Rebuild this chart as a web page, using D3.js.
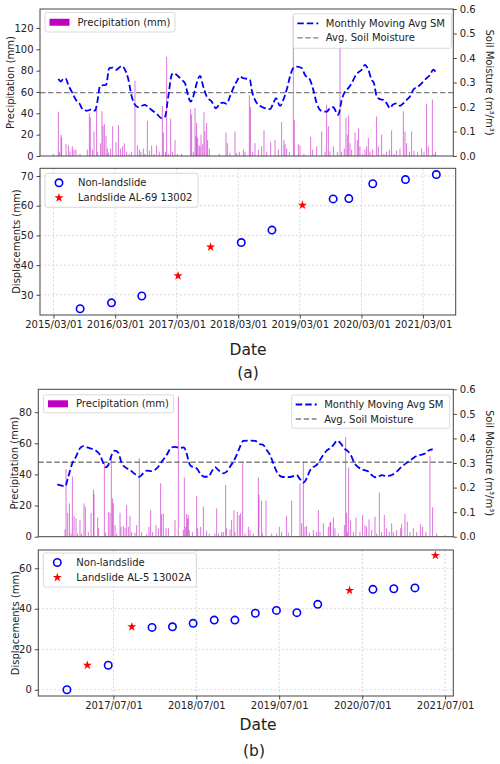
<!doctype html>
<html lang="en">

<head>
  <meta charset="utf-8">
  <title>Precipitation, soil moisture and displacements</title>
  <style>
    body {
      margin: 0;
      background: #fff;
    }

    svg text {
      font-family: 'DejaVu Sans', sans-serif;
      fill: #222;
    }

    .tick text {
      font-size: 10px;
    }

    .tick line {
      stroke: #444;
    }

    .grid line {
      stroke: #c8c8c8;
      stroke-width: 0.7;
      stroke-dasharray: 2, 2;
    }
  </style>
</head>

<body>
  <div id="chart"></div>

  <script src="https://d3js.org/d3.v7.min.js"></script>
  <script>
    // ---------- data ----------

    // (a) daily precipitation (decimal year, mm)
    const precipYearsA = [2015.165, 2015.248, 2015.265, 2015.292, 2015.303, 2015.375, 2015.414, 2015.441, 2015.480, 2015.507,
      2015.540, 2015.606, 2015.728, 2015.761, 2015.777, 2015.811, 2015.838, 2015.882, 2015.899, 2015.948,
      2015.970, 2015.987, 2016.009, 2016.037, 2016.059, 2016.075, 2016.114, 2016.147, 2016.202, 2016.241,
      2016.279, 2016.312, 2016.340, 2016.378, 2016.422, 2016.461, 2016.516, 2016.555, 2016.588, 2016.615,
      2016.654, 2016.681, 2016.720, 2016.753, 2016.792, 2016.830, 2016.874, 2016.918, 2016.968, 2016.985,
      2017.023, 2017.040, 2017.067, 2017.106, 2017.139, 2017.178, 2017.216, 2017.288, 2017.437, 2017.453,
      2017.481, 2017.509, 2017.525, 2017.536, 2017.553, 2017.575, 2017.591, 2017.608, 2017.636, 2017.657,
      2017.674, 2017.702, 2017.718, 2017.746, 2017.911, 2018.021, 2018.043, 2018.087, 2018.170, 2018.198,
      2018.242, 2018.308, 2018.335, 2018.407,
      2018.425, 2018.462, 2018.501, 2018.556, 2018.611, 2018.650, 2018.694, 2018.760, 2018.832, 2018.887,
      2018.942, 2018.980, 2018.997, 2019.025, 2019.069, 2019.135, 2019.151, 2019.218, 2019.245, 2019.311,
      2019.422, 2019.455, 2019.521, 2019.604, 2019.659, 2019.686, 2019.714, 2019.741, 2019.797, 2019.863,
      2019.907, 2019.934, 2019.978, 2020.006, 2020.028, 2020.050, 2020.072, 2020.100, 2020.155, 2020.193,
      2020.215, 2020.237, 2020.282, 2020.320, 2020.348, 2020.375, 2020.403, 2020.447, 2020.513, 2020.541,
      2020.596, 2020.634, 2020.678, 2020.723, 2020.761, 2020.800, 2020.844, 2020.899, 2020.954, 2020.982,
      2021.009, 2021.054, 2021.092, 2021.131, 2021.191, 2021.257, 2021.296, 2021.340, 2021.367, 2021.434,
      2021.461, 2021.489];
    const precipValuesA = [2, 41.6, 4, 20, 17.5, 11, 10, 4, 9, 6,
      6, 2, 6, 40, 36, 6, 23, 45, 4, 12,
      42, 28, 30, 19, 7, 3, 7, 28, 13, 29,
      7, 9, 12, 4, 2, 4, 70.6, 10, 6, 4,
      7, 2, 33, 5, 10, 2, 10, 4, 47, 22,
      4, 93, 2, 35, 4, 15, 2, 2, 44, 39,
      4, 45, 19, 31, 17, 10, 9, 20, 11, 41,
      23, 31, 15, 7, 2, 22, 12, 3, 23, 3,
      4, 6, 4, 57,
      46, 4, 12, 6, 9, 24, 4, 13, 15, 6,
      32, 15, 11, 7, 4, 131, 34, 11, 10, 2,
      18, 6, 9, 23, 4, 48, 28, 4, 9, 4,
      120, 4, 7, 36, 20, 38, 12, 6, 22, 15,
      26, 9, 2, 6, 9, 17, 4, 6, 37, 9,
      20, 2, 4, 6, 24, 2, 5, 7, 42, 23,
      12, 4, 23, 5, 4, 7, 4, 49, 9, 53,
      2, 4];

    // (a) monthly moving average soil moisture (decimal year, m3/m3)
    const smYearsA = [2015.248, 2015.292, 2015.330, 2015.370, 2015.413, 2015.469, 2015.540, 2015.595, 2015.661, 2015.727,
      2015.800, 2015.855, 2015.899, 2015.937, 2015.992, 2016.037, 2016.091, 2016.147, 2016.202, 2016.247,
      2016.296, 2016.351, 2016.405, 2016.462, 2016.516, 2016.571, 2016.627, 2016.682, 2016.736, 2016.792,
      2016.875, 2016.958, 2017.012, 2017.067, 2017.123, 2017.150, 2017.206, 2017.289, 2017.343, 2017.398,
      2017.437, 2017.480, 2017.537, 2017.591, 2017.646, 2017.702, 2017.785, 2017.856, 2017.922, 2017.977,
      2018.033, 2018.087, 2018.142, 2018.198, 2018.253, 2018.307, 2018.390, 2018.418, 2018.446, 2018.501,
      2018.584, 2018.666, 2018.749, 2018.804, 2018.848, 2018.914, 2018.969, 2019.025, 2019.080, 2019.134,
      2019.191, 2019.273, 2019.328, 2019.411, 2019.465, 2019.521, 2019.576, 2019.631, 2019.687, 2019.741,
      2019.796, 2019.852, 2019.879, 2019.935, 2019.989, 2020.044, 2020.100, 2020.155, 2020.209, 2020.266,
      2020.320, 2020.375, 2020.431, 2020.469, 2020.514, 2020.568, 2020.623, 2020.679, 2020.734, 2020.778,
      2020.844, 2020.899, 2020.954, 2021.010, 2021.064, 2021.119, 2021.175, 2021.230, 2021.284, 2021.341,
      2021.395, 2021.450, 2021.495];
    const smValuesA = [0.314, 0.304, 0.315, 0.316, 0.290, 0.263, 0.229, 0.215, 0.188, 0.185,
      0.191, 0.185, 0.229, 0.286, 0.289, 0.290, 0.359, 0.361, 0.352, 0.359,
      0.368, 0.352, 0.314, 0.243, 0.209, 0.199, 0.205, 0.209, 0.199, 0.188,
      0.172, 0.154, 0.161, 0.243, 0.331, 0.338, 0.331, 0.311, 0.297, 0.243,
      0.222, 0.243, 0.297, 0.327, 0.283, 0.243, 0.222, 0.195, 0.215, 0.218,
      0.213, 0.243, 0.277, 0.304, 0.324, 0.318, 0.314, 0.311, 0.270, 0.229,
      0.205, 0.195, 0.191, 0.215, 0.236, 0.205, 0.229, 0.270, 0.324, 0.359,
      0.365, 0.359, 0.331, 0.311, 0.270, 0.215, 0.188, 0.181, 0.181, 0.195,
      0.199, 0.175, 0.168, 0.229, 0.263, 0.277, 0.297, 0.324, 0.341, 0.352,
      0.372, 0.352, 0.311, 0.297, 0.243, 0.232, 0.229, 0.215, 0.195, 0.209,
      0.215, 0.205, 0.215, 0.229, 0.243, 0.270, 0.281, 0.290, 0.304, 0.318,
      0.331, 0.352, 0.341];
    const smMeanA = 0.259;

    // (a) displacements (mm)
    const stableDatesA = ['2015-08-06', '2016-02-08', '2016-08-06', '2018-03-19', '2018-09-17',
      '2019-09-15', '2019-12-17', '2020-05-07', '2020-11-17', '2021-05-19'];
    const stableDispA = [25.3, 27.3, 29.6, 47.6, 51.8, 62.3, 62.4, 67.4, 68.8, 70.5];
    const slideDatesA = ['2017-03-09', '2017-09-18', '2019-03-17'];
    const slideDispA = [36.4, 46.1, 60.2];
    const dateTicksA = ['2015-03-01', '2016-03-01', '2017-03-01', '2018-03-01', '2019-03-01', '2020-03-01', '2021-03-01'];

    // (b) daily precipitation (decimal year, mm)
    const precipYearsB = [2016.914, 2016.926, 2016.946, 2016.966, 2016.986, 2017.002, 2017.022, 2017.046, 2017.066, 2017.094,
      2017.114, 2017.142, 2017.158, 2017.194, 2017.227, 2017.255, 2017.263, 2017.307, 2017.319, 2017.387,
      2017.403, 2017.435, 2017.455, 2017.471, 2017.487, 2017.495, 2017.516, 2017.536, 2017.576, 2017.588,
      2017.616, 2017.636, 2017.656, 2017.676, 2017.696, 2017.716, 2017.756, 2017.776, 2017.808, 2017.837,
      2017.897, 2017.925, 2017.945, 2017.969, 2018.009, 2018.037, 2018.065, 2018.077, 2018.097, 2018.130,
      2018.158, 2018.238, 2018.278, 2018.338, 2018.350, 2018.366, 2018.378, 2018.390, 2018.398, 2018.410,
      2018.447, 2018.499, 2018.511, 2018.547, 2018.579, 2018.619, 2018.651, 2018.719, 2018.740, 2018.760,
      2018.800, 2018.820, 2018.848, 2018.860, 2018.900, 2018.920, 2018.948, 2018.960, 2018.988, 2019.012,
      2019.028, 2019.053, 2019.081, 2019.121,
      2019.141, 2019.181, 2019.241, 2019.249, 2019.281, 2019.289, 2019.334, 2019.402, 2019.462, 2019.494,
      2019.522, 2019.582, 2019.602, 2019.643, 2019.743, 2019.763, 2019.783, 2019.803, 2019.823, 2019.855,
      2019.903, 2019.944, 2019.964, 2019.984, 2020.024, 2020.084, 2020.104, 2020.112, 2020.144, 2020.164,
      2020.204, 2020.277, 2020.293, 2020.305, 2020.313, 2020.329, 2020.353, 2020.385, 2020.417, 2020.465,
      2020.497, 2020.525, 2020.545, 2020.574, 2020.606, 2020.646, 2020.666, 2020.698, 2020.726, 2020.758,
      2020.786, 2020.818, 2020.847, 2020.867, 2020.907, 2020.955, 2020.967, 2021.007, 2021.035, 2021.067,
      2021.107, 2021.148, 2021.196, 2021.220, 2021.260, 2021.308, 2021.340, 2021.388, 2021.489];
    const precipValuesB = [4.7, 43.5, 15.4, 21.4, 2, 38.6, 13.3, 11.8, 2, 10.7,
      2, 21.4, 19.3, 3, 15.4, 30.4, 27.4, 12.4, 5.8, 47.6,
      2.6, 16, 15.4, 51.9, 24.6, 21.4, 7.5, 2, 15.4, 6.4,
      6.9, 5.4, 20.4, 6.4, 13.3, 3, 2.6, 7.5, 50.4, 3,
      1.7, 6.4, 17.1, 3, 7.5, 5.4, 34.3, 14.6, 15, 5.4,
      5.4, 10.7, 90, 4.3, 38.1, 6.4, 14.6, 11.8, 13.9, 4.3,
      3, 26.1, 5.4, 6.4, 19.3, 3.9, 2, 2, 18.2, 2,
      3, 3, 33.2, 5.4, 4.7, 10.7, 17.1, 3, 16, 13.9,
      15, 48.2, 2, 6.4,
      4.3, 2, 38.1, 26.8, 23.1, 2, 23.1, 2, 2, 6.4,
      3, 13.3, 2.6, 23.1, 34.3, 8.6, 48.2, 6.4, 6.9, 2.6,
      4.3, 3, 17.1, 3, 8.6, 6.4, 9, 9.6, 12.4, 5.4,
      2, 7.5, 63.9, 15.4, 3, 44.4, 10.7, 3, 12.4, 3,
      13.9, 7.5, 6.4, 11.1, 4.3, 12.9, 2, 28.3, 3, 13.9,
      5.4, 3, 8.6, 3, 4.3, 5.4, 8.1, 14.6, 9.6, 3,
      5.4, 3, 8.1, 6.4, 3, 51.9, 18.9, 2, 1];

    // (b) monthly moving average soil moisture (decimal year, m3/m3)
    const smYearsB = [2016.821, 2016.874, 2016.914, 2016.953, 2016.994, 2017.046, 2017.094, 2017.134, 2017.182, 2017.235,
      2017.287, 2017.335, 2017.375, 2017.407, 2017.435, 2017.476, 2017.515, 2017.555, 2017.596, 2017.636,
      2017.696, 2017.756, 2017.808, 2017.856, 2017.897, 2017.957, 2018.018, 2018.078, 2018.138, 2018.198,
      2018.238, 2018.298, 2018.346, 2018.379, 2018.418, 2018.458, 2018.499, 2018.539, 2018.587, 2018.639,
      2018.680, 2018.719, 2018.759, 2018.812, 2018.860, 2018.900, 2018.940, 2018.981, 2019.020, 2019.060,
      2019.120, 2019.141, 2019.201, 2019.261, 2019.301, 2019.342, 2019.382, 2019.421, 2019.462, 2019.523,
      2019.583, 2019.643, 2019.703, 2019.743, 2019.783, 2019.824, 2019.863, 2019.903, 2019.944, 2019.984,
      2020.023, 2020.064, 2020.104, 2020.144, 2020.192, 2020.233, 2020.273, 2020.312, 2020.353, 2020.405,
      2020.445, 2020.505, 2020.565, 2020.606, 2020.646, 2020.686, 2020.726, 2020.787, 2020.847, 2020.907,
      2020.967, 2021.028, 2021.088, 2021.148, 2021.196, 2021.248, 2021.288, 2021.341];
    const smValuesB = [0.213, 0.208, 0.204, 0.244, 0.292, 0.326, 0.360, 0.369, 0.364, 0.358,
      0.350, 0.333, 0.299, 0.283, 0.292, 0.333, 0.350, 0.342, 0.299, 0.283,
      0.272, 0.255, 0.244, 0.258, 0.269, 0.267, 0.278, 0.305, 0.333, 0.364,
      0.366, 0.361, 0.364, 0.337, 0.292, 0.283, 0.278, 0.258, 0.244, 0.244,
      0.265, 0.283, 0.272, 0.258, 0.265, 0.285, 0.305, 0.333, 0.366, 0.390,
      0.391, 0.391, 0.390, 0.377, 0.373, 0.353, 0.333, 0.299, 0.265, 0.244,
      0.242, 0.244, 0.251, 0.234, 0.220, 0.238, 0.269, 0.283, 0.292, 0.312,
      0.333, 0.350, 0.360, 0.373, 0.391, 0.380, 0.360, 0.350, 0.333, 0.296,
      0.283, 0.272, 0.265, 0.251, 0.242, 0.244, 0.251, 0.247, 0.251, 0.265,
      0.285, 0.301, 0.315, 0.329, 0.333, 0.339, 0.350, 0.356];
    const smMeanB = 0.303;

    // (b) displacements (mm)
    const stableDatesB = ['2016-12-08', '2017-06-08', '2017-12-18', '2018-03-18', '2018-06-17', '2018-09-18', '2018-12-18',
      '2019-03-18', '2019-06-19', '2019-09-17', '2019-12-18', '2020-08-17', '2020-11-17', '2021-02-18'];
    const stableDispB = [0, 12.1, 30.8, 31.1, 32.8, 34.4, 34.4, 37.8, 39.2, 38.1, 42.2, 49.6, 49.9, 50.3];
    const slideDatesB = ['2017-03-08', '2017-09-20', '2020-05-06', '2021-05-19'];
    const slideDispB = [12.1, 31.1, 49.1, 66.4];
    const dateTicksB = ['2017-07-01', '2018-07-01', '2019-07-01', '2020-07-01', '2021-07-01'];

    // ---------- drawing ----------
    const parseDate = d3.timeParse('%Y-%m-%d');
    const formatDate = d3.timeFormat('%Y/%m/%d');

    const svg = d3.select('#chart')
      .append('svg')
      .attr('width', 500)
      .attr('height', 764);

    // style an axis group: thin ticks, no domain path (frame is drawn separately)
    function styleAxis(g) {
      g.select('.domain').remove();
      g.selectAll('.tick text').attr('fill', '#222');
    }

    function drawFrame(p) {
      svg.append('rect')
        .attr('x', p.left)
        .attr('y', p.top)
        .attr('width', p.right - p.left)
        .attr('height', p.bottom - p.top)
        .attr('fill', 'none')
        .attr('stroke', '#444')
        .attr('stroke-width', 1);
    }

    function legendBox(x, y, w, h) {
      svg.append('rect')
        .attr('x', x).attr('y', y)
        .attr('width', w).attr('height', h)
        .attr('rx', 2)
        .attr('fill', 'white')
        .attr('fill-opacity', 0.8)
        .attr('stroke', '#d0d0d0')
        .attr('stroke-width', 0.8);
    }

    function legendText(x, y, text) {
      svg.append('text')
        .attr('x', x)
        .attr('y', y)
        .attr('dy', '0.35em')
        .style('font-size', '10px')
        .text(text);
    }

    // precipitation bars + soil moisture lines (twin y axes)
    function drawPrecipPanel(p) {
      const x = d3.scaleLinear().domain(p.yearDomain).range([p.left, p.right]);
      const yP = d3.scaleLinear().domain([0, p.precipMax]).range([p.bottom, p.top]);
      const yS = d3.scaleLinear().domain([0, 0.6]).range([p.bottom, p.top]);

      svg.append('g')
        .selectAll('rect')
        .data(d3.zip(p.years, p.precip))
        .join('rect')
        .attr('x', d => x(d[0]) - 0.45)
        .attr('width', 0.9)
        .attr('y', d => yP(d[1]))
        .attr('height', d => p.bottom - yP(d[1]))
        .attr('fill', '#bf00bf')
        .attr('opacity', 0.6);

      // left legend sits on the bar axes
      legendBox(p.legL[0], p.legL[1], 130, p.legL[2]);
      svg.append('rect')
        .attr('x', p.legL[0] + 4.5)
        .attr('y', p.legL[1] + p.legL[2] / 2 - 3.5)
        .attr('width', 20)
        .attr('height', 7)
        .attr('fill', '#bf00bf');
      legendText(p.legL[0] + 32.5, p.legL[1] + p.legL[2] / 2, 'Precipitation (mm)');

      // average soil moisture
      svg.append('line')
        .attr('x1', p.left).attr('x2', p.right)
        .attr('y1', yS(p.smMean)).attr('y2', yS(p.smMean))
        .attr('stroke', '#808080')
        .attr('stroke-width', 1.3)
        .attr('stroke-dasharray', '5.5,2.5');

      // monthly moving average soil moisture
      const line = d3.line()
        .x(d => x(d[0]))
        .y(d => yS(d[1]))
        .curve(d3.curveMonotoneX);

      svg.append('path')
        .datum(d3.zip(p.smYears, p.smValues))
        .attr('d', line)
        .attr('fill', 'none')
        .attr('stroke', '#0000ff')
        .attr('stroke-width', 1.8)
        .attr('stroke-dasharray', '6.5,3');

      drawFrame(p);

      svg.append('g')
        .attr('transform', `translate(${p.left},0)`)
        .call(d3.axisLeft(yP).tickValues(p.precipTicks).tickSize(3.5).tickPadding(3))
        .call(styleAxis);

      svg.append('g')
        .attr('transform', `translate(${p.right},0)`)
        .call(d3.axisRight(yS).tickValues([0, 0.1, 0.2, 0.3, 0.4, 0.5, 0.6])
          .tickFormat(d3.format('.1f')).tickSize(3.5).tickPadding(3))
        .call(styleAxis);

      svg.append('text')
        .attr('transform', `translate(${p.ylabelX},${(p.top + p.bottom) / 2}) rotate(-90)`)
        .attr('text-anchor', 'middle')
        .attr('dy', '0.35em')
        .style('font-size', '10px')
        .text('Precipitation (mm)');

      svg.append('text')
        .attr('transform', `translate(489,${(p.top + p.bottom) / 2}) rotate(90)`)
        .attr('text-anchor', 'middle')
        .attr('dy', '0.35em')
        .style('font-size', '10px')
        .text('Soil Moisture (m³/m³)');

      // right legend (lines)
      const lr = p.legR;
      legendBox(lr[0], lr[1], 158, lr[2]);
      const rows = [
        { label: 'Monthly Moving Avg SM', color: '#0000ff', w: 1.8, dash: '6.5,3' },
        { label: 'Avg. Soil Moisture', color: '#808080', w: 1.3, dash: '5.5,2.5' }
      ];
      rows.forEach((r, i) => {
        const yy = lr[1] + 9.5 + i * 14.5;
        svg.append('line')
          .attr('x1', lr[0] + 4).attr('x2', lr[0] + 25)
          .attr('y1', yy).attr('y2', yy)
          .attr('stroke', r.color)
          .attr('stroke-width', r.w)
          .attr('stroke-dasharray', r.dash);
        legendText(lr[0] + 32.5, yy, r.label);
      });
    }

    const star = d3.symbol().type(d3.symbolStar).size(26);

    // displacement time series with circles and stars
    function drawDispPanel(p) {
      const x = d3.scaleTime().domain(p.dateDomain.map(parseDate)).range([p.left, p.right]);
      const y = d3.scaleLinear().domain(p.yDomain).range([p.bottom, p.top]);
      const ticks = p.dateTicks.map(parseDate);

      // grid
      svg.append('g')
        .attr('class', 'grid')
        .selectAll('line.v')
        .data(ticks)
        .join('line')
        .attr('x1', d => x(d)).attr('x2', d => x(d))
        .attr('y1', p.top).attr('y2', p.bottom);

      svg.append('g')
        .attr('class', 'grid')
        .selectAll('line.h')
        .data(p.yTicks)
        .join('line')
        .attr('x1', p.left).attr('x2', p.right)
        .attr('y1', d => y(d)).attr('y2', d => y(d));

      drawFrame(p);

      svg.append('g')
        .attr('transform', `translate(0,${p.bottom})`)
        .call(d3.axisBottom(x).tickValues(ticks).tickFormat(formatDate).tickSize(3.5).tickPadding(2))
        .call(styleAxis);

      svg.append('g')
        .attr('transform', `translate(${p.left},0)`)
        .call(d3.axisLeft(y).tickValues(p.yTicks).tickSize(3.5).tickPadding(3))
        .call(styleAxis);

      svg.append('text')
        .attr('transform', `translate(${p.ylabelX},${(p.top + p.bottom) / 2}) rotate(-90)`)
        .attr('text-anchor', 'middle')
        .attr('dy', '0.35em')
        .style('font-size', '10px')
        .text('Displacements (mm)');

      // legend
      const lg = p.legend;
      legendBox(lg[0], lg[1], 153, 34);
      svg.append('circle')
        .attr('cx', lg[0] + 14).attr('cy', lg[1] + 9.5)
        .attr('r', 3.7)
        .attr('fill', 'none')
        .attr('stroke', '#0000ff')
        .attr('stroke-width', 1.6);
      legendText(lg[0] + 33, lg[1] + 9.5, 'Non-landslide');
      svg.append('path')
        .attr('d', star)
        .attr('transform', `translate(${lg[0] + 14},${lg[1] + 24.5})`)
        .attr('fill', '#ff0000');
      legendText(lg[0] + 33, lg[1] + 24.5, p.slideLabel);

      // markers
      svg.append('g')
        .selectAll('circle')
        .data(d3.zip(p.stableDates, p.stableDisp))
        .join('circle')
        .attr('cx', d => x(parseDate(d[0])))
        .attr('cy', d => y(d[1]))
        .attr('r', 3.7)
        .attr('fill', 'none')
        .attr('stroke', '#0000ff')
        .attr('stroke-width', 1.6);

      svg.append('g')
        .selectAll('path')
        .data(d3.zip(p.slideDates, p.slideDisp))
        .join('path')
        .attr('d', star)
        .attr('transform', d => `translate(${x(parseDate(d[0]))},${y(d[1])})`)
        .attr('fill', '#ff0000');
    }

    function caption(x, y, text) {
      svg.append('text')
        .attr('x', x)
        .attr('y', y)
        .attr('text-anchor', 'middle')
        .style('font-size', '15.5px')
        .text(text);
    }

    // ----- figure (a) -----
    drawPrecipPanel({
      left: 40, right: 453.3, top: 9, bottom: 156,
      yearDomain: [2014.945, 2021.781],
      precipMax: 137.8,
      precipTicks: [0, 20, 40, 60, 80, 100, 120],
      years: precipYearsA, precip: precipValuesA,
      smYears: smYearsA, smValues: smValuesA, smMean: smMeanA,
      ylabelX: 10,
      legL: [45, 12.5, 19.5],
      legR: [293.3, 13.8, 34.5]
    });

    drawDispPanel({
      left: 40, right: 455.7, top: 168.3, bottom: 315,
      dateDomain: ['2014-12-11', '2021-09-11'],
      dateTicks: dateTicksA,
      yDomain: [23.2, 72.6],
      yTicks: [30, 40, 50, 60, 70],
      stableDates: stableDatesA, stableDisp: stableDispA,
      slideDates: slideDatesA, slideDisp: slideDispA,
      slideLabel: 'Landslide AL-69 13002',
      ylabelX: 16,
      legend: [45, 173.3]
    });

    caption(248, 355, 'Date');
    caption(248, 378, '(a)');

    // ----- figure (b) -----
    drawPrecipPanel({
      left: 38.3, right: 453.3, top: 389.3, bottom: 536.7,
      yearDomain: [2016.592, 2021.589],
      precipMax: 94.7,
      precipTicks: [0, 20, 40, 60, 80],
      years: precipYearsB, precip: precipValuesB,
      smYears: smYearsB, smValues: smValuesB, smMean: smMeanB,
      ylabelX: 14.5,
      legL: [43.5, 394.8, 18],
      legR: [291.7, 395, 33.3]
    });

    drawDispPanel({
      left: 38.3, right: 453.3, top: 550, bottom: 696,
      dateDomain: ['2016-08-04', '2021-08-06'],
      dateTicks: dateTicksB,
      yDomain: [-3.1, 69.05],
      yTicks: [0, 20, 40, 60],
      stableDates: stableDatesB, stableDisp: stableDispB,
      slideDates: slideDatesB, slideDisp: slideDispB,
      slideLabel: 'Landslide AL-5 13002A',
      ylabelX: 15,
      legend: [43.3, 553]
    });

    caption(258, 730, 'Date');
    caption(254, 755.5, '(b)');
  </script>
</body>

</html>
